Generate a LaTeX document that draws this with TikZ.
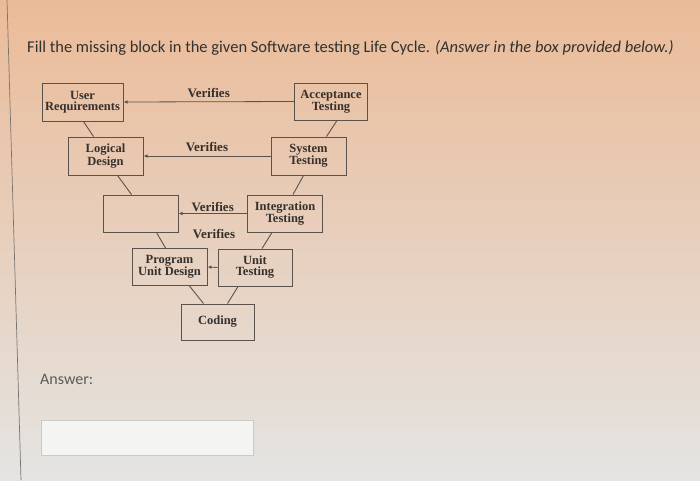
\documentclass[tikz,border=0pt]{standalone}
\usepackage{fontspec}
\setmainfont{Carlito}
\newfontfamily\boxfont{Liberation Serif}
\usetikzlibrary{positioning,calc,arrows.meta}
\definecolor{peach}{HTML}{EBBB98}
\definecolor{blush}{HTML}{EDD6C4}
\definecolor{screen}{HTML}{E4E4E2}
\definecolor{inkline}{HTML}{5A524C}
\definecolor{inktext}{HTML}{33302D}
\definecolor{answergray}{HTML}{C9C9C7}

\tikzset{
  block/.style={draw=inkline, line width=1pt, inner sep=0pt, align=center,
    text=inktext, font=\boxfont\bfseries\fontsize{12.5}{11}\selectfont},
  verify/.style={-{Latex[length=4pt,width=3.5pt]}, draw=inkline, line width=0.8pt},
  link/.style={draw=inkline, line width=0.9pt},
  vlabel/.style={text=inktext, font=\boxfont\bfseries\fontsize{13}{13}\selectfont, inner sep=1pt}
}

\begin{document}
\begin{tikzpicture}[x=1pt, y=-1pt]
    \useasboundingbox (0,0) rectangle (700,480);
    % photographed screen
    \shade[top color=peach, middle color=blush, bottom color=screen] (0,0) rectangle (700,480);
    \draw[inkline!80, line width=0.7pt] (7,0) -- (21,480);

    % question
    \node[anchor=west, inner sep=0pt, text=inktext, font=\fontsize{16.5}{19}\selectfont] (question) at (27,48)
      {Fill the missing block in the given Software testing Life Cycle. \textit{(Answer in the box provided below.)}};

    % left arm of the V
    \node[block, minimum width=81pt, minimum height=38pt] (ureq) at (82.5,102) {User\\Requirements};
    \node[block, minimum width=75pt, minimum height=38pt] (ldes) at (105.5,156) {Logical\\Design};
    \node[block, minimum width=75pt, minimum height=37pt] (miss) at (140.5,213.5) {};
    \node[block, minimum width=75pt, minimum height=37pt] (pud) at (169.5,267) {Program\\Unit Design};
    % bottom
    \node[block, minimum width=73pt, minimum height=36pt] (code) at (217.5,322) {Coding};
    % right arm of the V
    \node[block, minimum width=74pt, minimum height=37pt] (utest) at (255,267.5) {Unit\\Testing};
    \node[block, minimum width=75pt, minimum height=37pt] (itest) at (285,213.5) {Integration\\Testing};
    \node[block, minimum width=75pt, minimum height=38pt] (stest) at (308.5,156) {System\\Testing};
    \node[block, minimum width=73pt, minimum height=37pt] (atest) at (331,101.5) {Acceptance\\Testing};

    % V links
    \draw[link] ($(ureq.south)+(1,0)$) -- ($(ldes.north)+(-12,0)$);
    \draw[link] ($(ldes.south)+(12,0)$) -- ($(miss.north)+(-9,0)$);
    \draw[link] ($(miss.south)+(16,0)$) -- ($(pud.north)+(-4,0)$);
    \draw[link] ($(pud.south)+(20,0)$) -- ($(code.north)+(-14,0)$);
    \draw[link] ($(utest.south)+(-17,0)$) -- ($(code.north)+(10,0)$);
    \draw[link] ($(itest.south)+(-13,0)$) -- ($(utest.north)+(7,0)$);
    \draw[link] ($(stest.south)+(-5,0)$) -- ($(itest.north)+(8,0)$);
    \draw[link] ($(atest.south)+(6,0)$) -- ($(stest.north)+(18,0)$);

    % verification arrows
    \draw[verify] (atest.west) -- node[vlabel, above=3pt] (v1) {Verifies} (ureq.east);
    \draw[verify] (stest.west) -- node[vlabel, above=3pt] (v2) {Verifies} (ldes.east);
    \draw[verify] (itest.west) -- node[vlabel, above=0pt] (v3) {Verifies} (miss.east);
    \node[vlabel] (v4) at (214,234) {Verifies};
    \draw[verify] (utest.west) -- (pud.east);

    % answer area
    \node[anchor=west, inner sep=0pt, text=inktext!80, font=\fontsize{16}{18}\selectfont] (answer) at (40,379) {Answer:};
    \node[draw=answergray, fill=white!60!screen, line width=0.8pt, minimum width=212pt, minimum height=35pt,
      inner sep=0pt] (abox) at (147,437.5) {};
  \end{tikzpicture}
\end{document}
